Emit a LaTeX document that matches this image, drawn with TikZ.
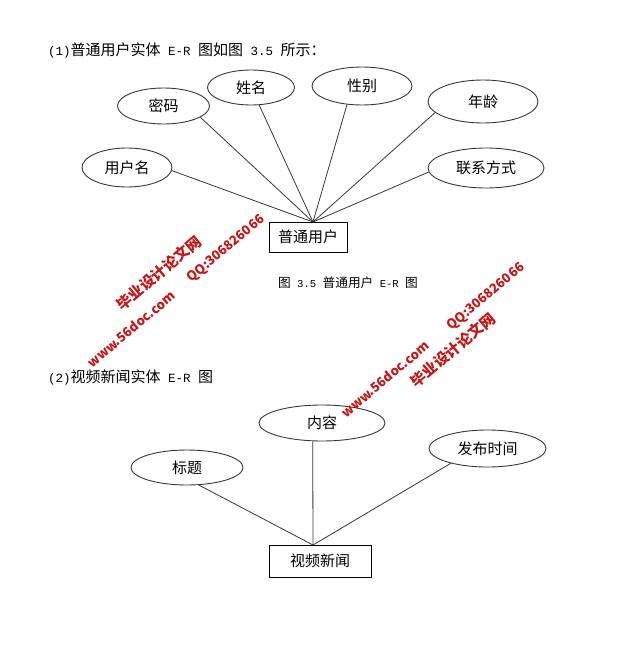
\documentclass[tikz,border=0pt]{standalone}
\usepackage{fontspec}
\setmainfont{Noto Sans CJK SC}
\newfontfamily\halfwidth{Liberation Mono}
\usetikzlibrary{shapes.geometric}
\definecolor{lineGray}{RGB}{55,55,55}
\definecolor{markRed}{RGB}{200,20,20}
\newcommand{\hw}[1]{{\halfwidth\fontsize{12.5}{14}\selectfont #1}}
\newcommand{\hwsmall}[1]{{\halfwidth\fontsize{10.6}{12}\selectfont #1}}
\tikzset{
  attr node/.style={ellipse,draw=lineGray,line width=0.9pt,inner sep=0pt,font=\fontsize{15}{15}\selectfont},
  entity node/.style={rectangle,draw=black,line width=0.9pt,inner sep=0pt,font=\fontsize{15}{15}\selectfont},
  er line/.style={draw=lineGray,line width=0.8pt},
  head text/.style={anchor=west,inner sep=0pt,font=\fontsize{15}{15}\selectfont},
  mark text/.style={text=markRed,rotate=40,inner sep=0pt,font=\bfseries\fontsize{15}{15}\selectfont},
  mark latin/.style={mark text,font=\bfseries\fontsize{13}{13}\selectfont}
}
\begin{document}
\begin{tikzpicture}[x=1pt,y=-1pt]
  \useasboundingbox (0,0) rectangle (619,653);
  \node[head text] (title1) at (48,50) {\hw{(1)}普通用户实体\hw{ E-R }图如图\hw{ 3.5 }所示：};
  \node[attr node,minimum width=90pt,minimum height=39pt] (username) at (127,167.5) {用户名};
  \node[attr node,minimum width=92pt,minimum height=36pt] (password) at (163.5,106) {密码};
  \node[attr node,minimum width=87pt,minimum height=35pt] (name) at (251,87.5) {姓名};
  \node[attr node,minimum width=100pt,minimum height=38pt] (gender) at (362,86) {性别};
  \node[attr node,minimum width=110pt,minimum height=43pt] (age) at (483,101.5) {年龄};
  \node[attr node,minimum width=116pt,minimum height=40pt] (contact) at (486,168) {联系方式};
  \node[entity node,minimum width=78pt,minimum height=30pt] (user) at (308,237) {普通用户};
  \coordinate (userhub) at (313,222);
  \draw[er line] (username.356) -- (userhub);
  \draw[er line] (password.343) -- (userhub);
  \draw[er line] (name.295) -- (userhub);
  \draw[er line] (gender.231) -- (userhub);
  \draw[er line] (age.193) -- (userhub);
  \draw[er line] (contact.184) -- (userhub);
  \node[inner sep=0pt,font=\fontsize{12.7}{13}\selectfont] (caption1) at (348,283) {图\hwsmall{ 3.5 }普通用户\hwsmall{ E-R }图};

  \node[head text] (title2) at (48,377) {\hw{(2)}视频新闻实体\hw{ E-R }图};
  \node[attr node,minimum width=112pt,minimum height=35pt] (headline) at (187,467.5) {标题};
  \node[attr node,minimum width=126pt,minimum height=36pt] (content) at (322,423) {内容};
  \node[attr node,minimum width=117pt,minimum height=37pt] (pubtime) at (487.5,448.5) {发布时间};
  \node[entity node,minimum width=102pt,minimum height=32pt] (video) at (320,561) {视频新闻};
  \coordinate (videohub) at (313,545);
  \draw[er line] (headline.304) -- (videohub);
  \draw[er line] (content.243) -- (videohub);
  \draw[er line] (pubtime.202) -- (videohub);

  \node[mark text] (mark1a) at (159,273) {毕业设计论文网};
  \node[mark latin] (mark1b) at (226,249) {QQ:306826066};
  \node[mark latin] (mark1c) at (131,329) {www.56doc.com};
  \node[mark text] (mark2a) at (453,350) {毕业设计论文网};
  \node[mark latin] (mark2b) at (486,297) {QQ:306826066};
  \node[mark latin] (mark2c) at (385,379) {www.56doc.com};
\end{tikzpicture}
\end{document}
